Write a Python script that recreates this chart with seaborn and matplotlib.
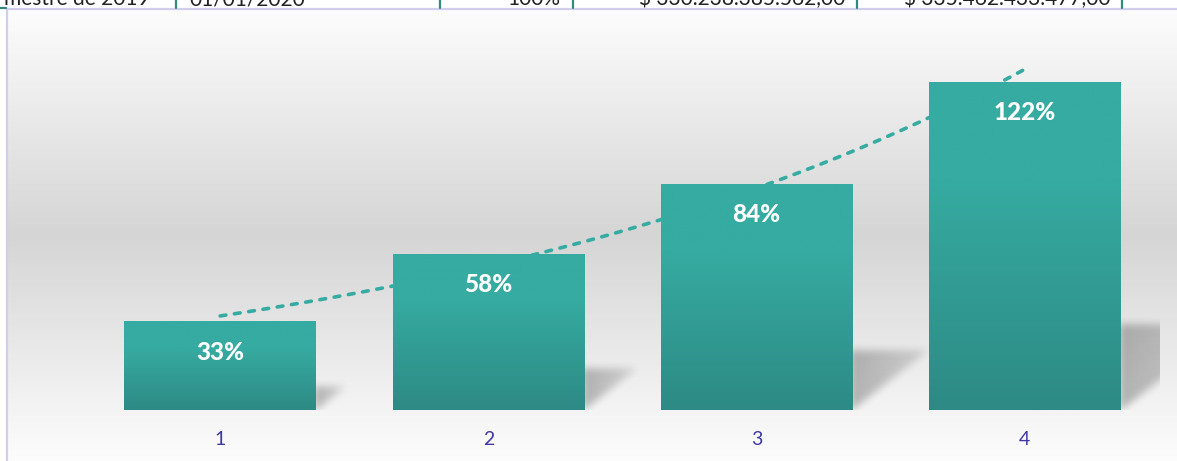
import numpy as np
import pandas as pd
import matplotlib
matplotlib.use("Agg")
import matplotlib.pyplot as plt
import seaborn as sns

# chart data
categories = ["1", "2", "3", "4"]
values = [33, 58, 84, 122]
bar_labels = ["33%", "58%", "84%", "122%"]

# spreadsheet row that is cut off above the chart
sheet_cells = ["mestre de 2019", "01/01/2020", "100%", "$ 330.238.385.562,00", "$ 335.462.433.477,00"]
sheet_cell_right = [150, 305, 560, 845, 1110]
sheet_dividers = [176, 440, 573, 857, 1122]


def box_blur(a, r):
    # simple separable box blur, run twice to get something close to gaussian
    k = np.ones(2 * r + 1) / (2 * r + 1)
    for _ in range(2):
        a = np.apply_along_axis(lambda m: np.convolve(m, k, mode="same"), 0, a)
        a = np.apply_along_axis(lambda m: np.convolve(m, k, mode="same"), 1, a)
    return a


def main():
    sns.set_theme(style="white")
    plt.rcParams["font.family"] = ["Lato", "DejaVu Sans"]

    W, H = 1177, 461
    fig = plt.figure(figsize=(W / 100, H / 100), dpi=100)

    # background layer: gradient chart area + sheet fragments
    bg = fig.add_axes([0, 0, 1, 1], zorder=0)
    ys = np.arange(9, H)
    gray = np.interp(ys, [9, 235, H], [253, 213, 253]) / 255
    img = np.repeat(np.repeat(gray[:, None, None], 2, axis=1), 3, axis=2)
    bg.imshow(img, extent=[8, W, H, 9], aspect="auto", interpolation="bilinear")
    bg.plot([7, 7], [9, H], color="#D2CDEC", lw=1.6)
    bg.plot([7, W], [9, 9], color="#D2CDEC", lw=1.6)
    bg.plot([0, 6], [8.5, 8.5], color="#2E8B7E", lw=1.6)
    for xd in sheet_dividers:
        bg.plot([xd, xd], [0, 8], color="#2E8B7E", lw=1.6)
    for txt, xr in zip(sheet_cells, sheet_cell_right):
        bg.text(xr, 5, txt, ha="right", va="baseline", fontsize=15, color="#222222")
    bg.set_xlim(0, W)
    bg.set_ylim(H, 0)
    bg.axis("off")

    # main plot area
    ax_w, ax_h = 1073, 376.6
    ax = fig.add_axes([86 / W, (H - 410) / H, ax_w / W, ax_h / H], zorder=1)
    ax.patch.set_alpha(0)

    df = pd.DataFrame({"period": categories, "value": values})
    sns.barplot(data=df, x="period", y="value", width=0.713, color="#35ABA1",
                saturation=1, ax=ax, zorder=3)

    px_x = ax_w / 4
    px_y = ax_h / 140

    # gradient fill on the bars
    top_c = np.array([54, 171, 161]) / 255
    bot_c = np.array([45, 138, 132]) / 255
    t = np.linspace(0, 1, 256)
    f = np.clip((t - 0.3) / 0.7, 0, 1)
    grad = (top_c + (bot_c - top_c) * f[:, None])[:, None, :]

    for p in ax.patches:
        x0, w, h = p.get_x(), p.get_width(), p.get_height()
        im = ax.imshow(grad, extent=[x0, x0 + w, 0, h], origin="upper",
                       aspect="auto", zorder=3, interpolation="bilinear")
        im.set_clip_path(p)
        p.set_facecolor("none")
        p.set_edgecolor("none")

        # soft perspective shadow to the right of the bar
        right = x0 + w
        hp = h * px_y
        T = 0.26 * hp
        L = 1.3 * T
        pad = 14
        nx, ny = int(L + 2 * pad), int(T + 2 * pad)
        xx = np.arange(nx)[None, :] - pad + 0.5
        hgt = (ny - pad) - np.arange(ny)[:, None] - 0.5
        mask = (xx >= -2) & (hgt >= 0) & (hgt <= T) & (xx <= L * hgt / T)
        shade = mask * (1 - 0.55 * np.clip(xx / L, 0, 1))
        shade = box_blur(shade.astype(float), 4)
        rgba = np.zeros((ny, nx, 4))
        rgba[..., 3] = 0.26 * shade
        ax.imshow(rgba, extent=[right - pad / px_x, right + (nx - pad) / px_x,
                                -pad / px_y, (ny - pad) / px_y],
                  origin="upper", aspect="auto", zorder=2, interpolation="bilinear")

    # exponential trendline
    xs = np.arange(len(values))
    b, a = np.polyfit(xs, np.log(values), 1)
    xt = np.linspace(0, len(values) - 1, 200)
    ax.plot(xt, np.exp(a + b * xt), color="#35ABA1", lw=2.6, ls=(0, (1.6, 2.4)),
            dash_capstyle="round", zorder=2.5)

    # value labels inside the bars
    for i, (v, lbl) in enumerate(zip(values, bar_labels)):
        ax.text(i, v - 11.5, lbl, ha="center", va="center", color="white",
                fontsize=17.5, fontweight="black", zorder=5)

    ax.set_xlim(-0.5, 3.5)
    ax.set_ylim(0, 140)
    ax.set_xlabel("")
    ax.set_ylabel("")
    ax.set_yticks([])
    ax.tick_params(axis="x", length=0, pad=15, labelsize=14, labelcolor="#3E37A6")
    sns.despine(ax=ax, left=True, bottom=True)

    fig.savefig("out.png", dpi=100)


if __name__ == "__main__":
    main()
